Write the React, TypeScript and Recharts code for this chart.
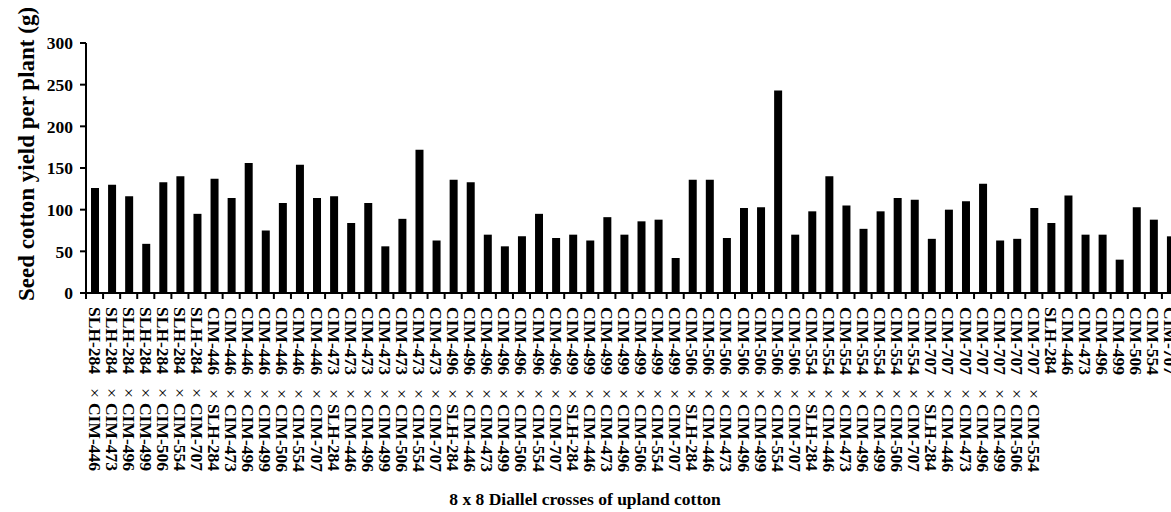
import React from 'react';
import { BarChart, Bar, XAxis, YAxis } from 'recharts';

const crosses: string[] = [
  'SLH-284 × CIM-446', 'SLH-284 × CIM-473', 'SLH-284 × CIM-496', 'SLH-284 × CIM-499',
  'SLH-284 × CIM-506', 'SLH-284 × CIM-554', 'SLH-284 × CIM-707',
  'CIM-446 × SLH-284', 'CIM-446 × CIM-473', 'CIM-446 × CIM-496', 'CIM-446 × CIM-499',
  'CIM-446 × CIM-506', 'CIM-446 × CIM-554', 'CIM-446 × CIM-707',
  'CIM-473 × SLH-284', 'CIM-473 × CIM-446', 'CIM-473 × CIM-496', 'CIM-473 × CIM-499',
  'CIM-473 × CIM-506', 'CIM-473 × CIM-554', 'CIM-473 × CIM-707',
  'CIM-496 × SLH-284', 'CIM-496 × CIM-446', 'CIM-496 × CIM-473', 'CIM-496 × CIM-499',
  'CIM-496 × CIM-506', 'CIM-496 × CIM-554', 'CIM-496 × CIM-707',
  'CIM-499 × SLH-284', 'CIM-499 × CIM-446', 'CIM-499 × CIM-473', 'CIM-499 × CIM-496',
  'CIM-499 × CIM-506', 'CIM-499 × CIM-554', 'CIM-499 × CIM-707',
  'CIM-506 × SLH-284', 'CIM-506 × CIM-446', 'CIM-506 × CIM-473', 'CIM-506 × CIM-496',
  'CIM-506 × CIM-499', 'CIM-506 × CIM-554', 'CIM-506 × CIM-707',
  'CIM-554 × SLH-284', 'CIM-554 × CIM-446', 'CIM-554 × CIM-473', 'CIM-554 × CIM-496',
  'CIM-554 × CIM-499', 'CIM-554 × CIM-506', 'CIM-554 × CIM-707',
  'CIM-707 × SLH-284', 'CIM-707 × CIM-446', 'CIM-707 × CIM-473', 'CIM-707 × CIM-496',
  'CIM-707 × CIM-499', 'CIM-707 × CIM-506', 'CIM-707 × CIM-554',
];

const parents: string[] = [
  'SLH-284', 'CIM-446', 'CIM-473', 'CIM-496', 'CIM-499', 'CIM-506', 'CIM-554', 'CIM-707',
];

// seed cotton yield per plant (g), same order as crosses
const crossYield: number[] = [
  126, 130, 116, 59, 133, 140, 95,
  137, 114, 156, 75, 108, 154, 114,
  116, 84, 108, 56, 89, 172, 63,
  136, 133, 70, 56, 68, 95, 66,
  70, 63, 91, 70, 86, 88, 42,
  136, 136, 66, 102, 103, 243, 70,
  98, 140, 105, 77, 98, 114, 112,
  65, 100, 110, 131, 63, 65, 102,
];

const parentYield: number[] = [84, 117, 70, 70, 40, 103, 88, 68];

const yTicks: number[] = [0, 50, 100, 150, 200, 250, 300];

const data = [...crosses, ...parents].map((name, i) => ({
  name,
  value: i < crosses.length ? crossYield[i] : parentYield[i - crosses.length],
}));

const FONT = "'Times New Roman', 'Liberation Serif', serif";
const PLOT_W = 1093;
const BAND = PLOT_W / data.length;

const CrossTick = (props: any) => {
  const { x, y, payload } = props;
  const parts = String(payload.value).split(' × ');
  return (
    <g>
      <line x1={x - BAND / 2} y1={y} x2={x - BAND / 2} y2={y + 6} stroke="#000" strokeWidth={2} />
      <text
        transform={`translate(${x},${y + 14}) rotate(90)`}
        dominantBaseline="central"
        fontFamily={FONT}
        fontWeight="bold"
        fontSize={17.5}
        fill="#000"
      >
        {parts[0]}
        {parts.length > 1 && (
          <>
            <tspan dx={14} fontWeight="normal">×</tspan>
            <tspan dx={5}>{parts[1]}</tspan>
          </>
        )}
      </text>
    </g>
  );
};

const YTitle = (props: any) => {
  const { viewBox } = props;
  const cx = viewBox.x + 8;
  const cy = viewBox.y + viewBox.height / 2 - 14;
  return (
    <text
      transform={`translate(${cx},${cy}) rotate(-90)`}
      textAnchor="middle"
      fontFamily={FONT}
      fontWeight="bold"
      fontSize={23}
      fill="#000"
    >
      Seed cotton yield per plant (g)
    </text>
  );
};

const XTitle = () => (
  <text x={577} y={497} textAnchor="middle" fontFamily={FONT} fontWeight="bold" fontSize={17.5} fill="#000">
    8 x 8 Diallel crosses of upland cotton
  </text>
);

export default function App() {
  return (
    <div
      style={{
        position: 'absolute',
        left: 8,
        top: 8,
        width: 1163,
        height: 504,
        overflow: 'hidden',
        background: '#fff',
      }}
    >
      <style>{'html,body{overflow:hidden}'}</style>
      <BarChart
        width={1200}
        height={504}
        data={data}
        margin={{ top: 35, right: 1200 - 78 - PLOT_W, left: 18, bottom: 19 }}
      >
        <XAxis
          dataKey="name"
          interval={0}
          height={200}
          tickSize={0}
          tickLine={false}
          tickMargin={0}
          axisLine={{ stroke: '#000', strokeWidth: 2 }}
          tick={<CrossTick />}
          label={<XTitle />}
        />
        <YAxis
          domain={[0, 300]}
          ticks={yTicks}
          width={60}
          tickSize={6}
          tickMargin={7}
          axisLine={{ stroke: '#000', strokeWidth: 2 }}
          tickLine={{ stroke: '#000', strokeWidth: 2 }}
          tick={{ fill: '#000', fontSize: 17.5, fontWeight: 'bold', fontFamily: FONT }}
          label={<YTitle />}
        />
        <Bar dataKey="value" fill="#000" barSize={8} isAnimationActive={false} />
      </BarChart>
    </div>
  );
}
